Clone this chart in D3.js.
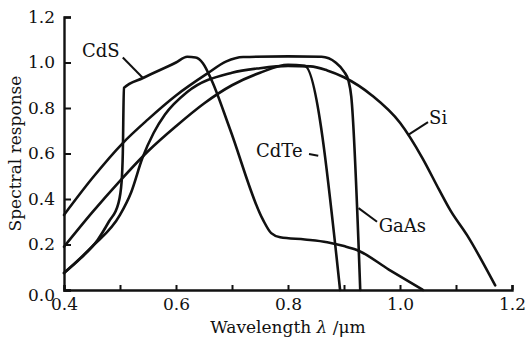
<!DOCTYPE html>
<html>
<head>
<meta charset="utf-8">
<script src="https://cdn.jsdelivr.net/npm/d3@7"></script>
<style>
  html, body { margin: 0; padding: 0; background: #fff; }
  svg { display: block; }
  text { font-family: "DejaVu Serif", "Liberation Serif", serif; fill: #111; }
</style>
</head>
<body>
<svg id="chart" width="527" height="340"></svg>
<script>
// wavelength (um) / response pairs
const gaasX = [0.40, 0.45, 0.505, 0.55, 0.60, 0.655, 0.69, 0.72, 0.80, 0.86, 0.885, 0.90, 0.908, 0.913, 0.929];
const gaasY = [0.33, 0.49, 0.646, 0.75, 0.855, 0.95, 1.005, 1.024, 1.027, 1.025, 1.00, 0.96, 0.92, 0.85, 0.0];

const siX = [0.40, 0.45, 0.50, 0.52, 0.54, 0.56, 0.58, 0.62, 0.70, 0.75, 0.80, 0.84, 0.87, 0.90, 0.95, 1.00, 1.04, 1.07, 1.09, 1.12, 1.17];
const siY = [0.075, 0.19, 0.33, 0.43, 0.58, 0.69, 0.77, 0.87, 0.955, 0.975, 0.985, 0.983, 0.965, 0.935, 0.855, 0.735, 0.58, 0.44, 0.35, 0.24, 0.02];

const cdteX = [0.40, 0.45, 0.50, 0.55, 0.60, 0.65, 0.70, 0.75, 0.80, 0.83, 0.893];
const cdteY = [0.19, 0.34, 0.48, 0.61, 0.72, 0.82, 0.90, 0.955, 0.99, 0.985, 0.0];

const cdsX = [0.40, 0.43, 0.46, 0.48, 0.497, 0.503, 0.505, 0.507, 0.541, 0.60, 0.62, 0.635, 0.648, 0.664, 0.696, 0.755, 0.77, 0.786, 0.83, 0.87, 0.90, 0.923, 0.98, 1.041];
const cdsY = [0.075, 0.14, 0.22, 0.30, 0.38, 0.48, 0.60, 0.888, 0.932, 1.00, 1.025, 1.022, 0.997, 0.92, 0.71, 0.31, 0.25, 0.232, 0.222, 0.21, 0.193, 0.176, 0.09, 0.0];

const seriesNames = ['GaAs', 'Si', 'CdTe', 'CdS'];
const seriesX = [gaasX, siX, cdteX, cdsX];
const seriesY = [gaasY, siY, cdteY, cdsY];

// curve labels: text start, leader from -> to (data units)
const labelText = ['CdS', 'CdTe', 'GaAs', 'Si'];
const labelPos = [[0.432, 1.024], [0.743, 0.585], [0.962, 0.255], [1.052, 0.73]];
const leaderFrom = [[0.505, 1.022], [0.8375, 0.598], [0.926, 0.36], [1.014, 0.681]];
const leaderTo = [[0.541, 0.932], [0.854, 0.59], [0.959, 0.30], [1.05, 0.738]];

const xTicks = [0.4, 0.5, 0.6, 0.7, 0.8, 0.9, 1.0, 1.1, 1.2];
const xTickLabels = [0.4, 0.6, 0.8, 1.0, 1.2];
const yTicks = [0, 0.2, 0.4, 0.6, 0.8, 1.0, 1.2];

const svg = d3.select('#chart');
const margin = { top: 17, right: 15, bottom: 50, left: 64 };
const width = 527 - margin.left - margin.right;
const height = 340 - margin.top - margin.bottom;

const g = svg.append('g').attr('transform', `translate(${margin.left},${margin.top})`);

const x = d3.scaleLinear().domain([0.4, 1.2]).range([0, width]);
const y = d3.scaleLinear().domain([0, 1.2]).range([height, 0]);

// axes, ticks point inward
const xAxis = g.append('g')
  .attr('transform', `translate(0,${height})`)
  .call(d3.axisBottom(x).tickValues(xTicks).tickSize(-5).tickPadding(8)
    .tickFormat(d => xTickLabels.some(v => Math.abs(v - d) < 1e-9) ? d3.format('.1f')(d) : ''));
const yAxis = g.append('g')
  .call(d3.axisLeft(y).tickValues(yTicks).tickSize(-7).tickPadding(9).tickFormat(d3.format('.1f')));

[xAxis, yAxis].forEach(a => {
  a.select('.domain').attr('stroke', '#111').attr('stroke-width', 2.4);
  a.selectAll('.tick line').attr('stroke', '#111').attr('stroke-width', 2);
  a.selectAll('.tick text').style('font-size', '17px').attr('fill', '#111');
});
yAxis.selectAll('.tick text').filter(d => d === 0).attr('dy', '0.62em');

// curves
const line = d3.line()
  .x(d => x(d[0]))
  .y(d => y(d[1]))
  .curve(d3.curveMonotoneX);

seriesNames.forEach((name, i) => {
  const pts = seriesX[i].map((v, j) => [v, seriesY[i][j]]);
  g.append('path')
    .datum(pts)
    .attr('d', line)
    .attr('fill', 'none')
    .attr('stroke', '#111')
    .attr('stroke-width', 2.6)
    .attr('stroke-linejoin', 'round')
    .attr('stroke-linecap', 'round');
});

// leaders + labels
labelText.forEach((t, i) => {
  g.append('line')
    .attr('x1', x(leaderFrom[i][0])).attr('y1', y(leaderFrom[i][1]))
    .attr('x2', x(leaderTo[i][0])).attr('y2', y(leaderTo[i][1]))
    .attr('stroke', '#111').attr('stroke-width', 2);
  g.append('text')
    .attr('x', x(labelPos[i][0]))
    .attr('y', y(labelPos[i][1]))
    .style('font-size', '18px')
    .text(t);
});

// axis titles
const xt = g.append('text')
  .attr('x', width / 2)
  .attr('y', height + 43)
  .attr('text-anchor', 'middle')
  .style('font-size', '17px');
xt.append('tspan').text('Wavelength ');
xt.append('tspan').style('font-style', 'italic').text('λ');
xt.append('tspan').text(' /μm');

g.append('text')
  .attr('transform', `translate(${-43},${height / 2}) rotate(-90)`)
  .attr('text-anchor', 'middle')
  .style('font-size', '17px')
  .text('Spectral response');
</script>
</body>
</html>
